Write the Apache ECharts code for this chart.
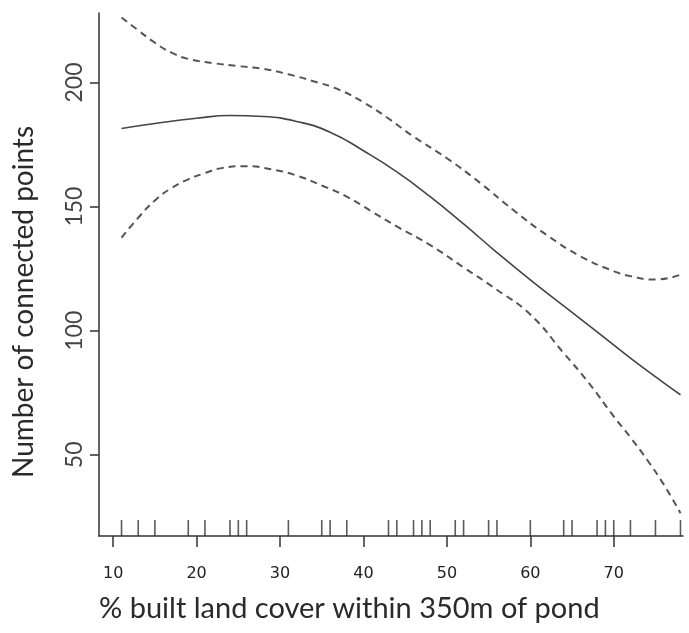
<!DOCTYPE html>
<html>
<head>
<meta charset="utf-8">
<script src="https://cdn.jsdelivr.net/npm/echarts@6/dist/echarts.min.js"></script>
<style>
  html, body { margin: 0; padding: 0; background: #fff; }
  #chart { width: 689px; height: 633px; }
</style>
</head>
<body>
<div id="chart"></div>
<script>
// fitted curve and confidence band
var fitX = [11, 15, 20, 24, 28, 32, 36, 40, 44, 48, 52, 56, 60, 64, 68, 72, 76, 78];
var fitY = [181.5, 183.5, 185.6, 186.7, 186.3, 184.3, 180, 172.5, 164, 154, 143, 131.5, 120.5, 110, 99.5, 89, 79, 74.2];

var upperX = [11, 13, 15, 17, 19, 22, 25, 28, 31, 34, 37, 40, 43, 46, 50, 54, 58, 62, 66, 70, 72, 75, 78];
var upperY = [226.2, 221, 216, 212, 209.5, 207.8, 206.6, 205.5, 203.3, 200.5, 197.2, 192, 185.5, 178.2, 169.5, 159.5, 148.5, 138.5, 130, 124, 122, 120.6, 122.6];

var lowerX = [11, 13, 15, 17, 19, 21, 23, 26, 29, 32, 35, 38, 41, 44, 48, 52, 56, 60, 64, 67, 70, 72, 74, 76, 78];
var lowerY = [137.5, 145.5, 152.5, 157.5, 161, 163.5, 165.5, 166.3, 165, 162.5, 158.5, 154, 148, 142, 134.5, 125.5, 116.5, 106.5, 91, 79, 65.5, 57, 48, 38, 26.5];

// rug of observed x values
var rugX = [11, 13, 15, 19, 21, 24, 25, 26, 31, 35, 36, 38, 43, 44, 46, 47, 48, 51, 52, 55, 56, 60, 64, 65, 68, 69, 70, 72, 75, 78];

// axis ticks
var xTicks = [10, 20, 30, 40, 50, 60, 70];
var yTicks = [50, 100, 150, 200];
var xMin = 8.3, xMax = 78.3;
var yMin = 17.3, yMax = 228;

var xTitle = '% built land cover within 350m of pond';
var yTitle = 'Number of connected points';

function pairs(xs, ys) {
  var out = [];
  for (var i = 0; i < xs.length; i++) out.push([xs[i], ys[i]]);
  return out;
}

var myChart = echarts.init(document.getElementById('chart'), null, { renderer: 'canvas' });
var option = {
  animation: false,
  backgroundColor: '#fff',
  grid: { left: 99, right: 6, top: 13, bottom: 97, containLabel: false, outerBoundsMode: 'none' },
  // axis titles placed as in the original figure
  graphic: [
    {
      type: 'text',
      left: 99,
      top: 594,
      style: { text: xTitle, font: '29px Lato', fill: '#2a2a2a' }
    },
    {
      type: 'text',
      x: 10,
      y: 478,
      rotation: Math.PI / 2,
      style: { text: yTitle, font: '28px Lato', fill: '#2a2a2a', align: 'left', verticalAlign: 'top' }
    }
  ],
  xAxis: {
    type: 'value',
    min: xMin,
    max: xMax,
    axisLine: { show: true, onZero: false, lineStyle: { color: '#333', width: 1.5 } },
    axisTick: { show: true, length: 11, customValues: xTicks, lineStyle: { color: '#333', width: 1.5 } },
    axisLabel: { customValues: xTicks, margin: 30, fontFamily: 'DejaVu Sans', fontSize: 16, color: '#222' },
    splitLine: { show: false }
  },
  yAxis: {
    type: 'value',
    min: yMin,
    max: yMax,
    axisLine: { show: true, onZero: false, lineStyle: { color: '#333', width: 1.5 } },
    axisTick: { show: true, length: 9, customValues: yTicks, lineStyle: { color: '#333', width: 1.5 } },
    axisLabel: { customValues: yTicks, rotate: 90, margin: 13, fontFamily: 'Lato', fontSize: 23, color: '#444' },
    splitLine: { show: false }
  },
  series: [
    {
      name: 'fit',
      type: 'line',
      smooth: true,
      showSymbol: false,
      data: pairs(fitX, fitY),
      lineStyle: { color: '#444', width: 1.6 }
    },
    {
      name: 'upper',
      type: 'line',
      smooth: true,
      showSymbol: false,
      data: pairs(upperX, upperY),
      lineStyle: { color: '#555', width: 2, type: [7, 5] }
    },
    {
      name: 'lower',
      type: 'line',
      smooth: true,
      showSymbol: false,
      data: pairs(lowerX, lowerY),
      lineStyle: { color: '#555', width: 2, type: [7, 5] }
    },
    {
      name: 'rug',
      type: 'scatter',
      symbol: 'rect',
      symbolSize: [1.6, 16],
      symbolOffset: [0, -8],
      clip: false,
      data: rugX.map(function (v) { return [v, yMin]; }),
      itemStyle: { color: '#333' }
    }
  ]
};
myChart.setOption(option);
</script>
</body>
</html>
